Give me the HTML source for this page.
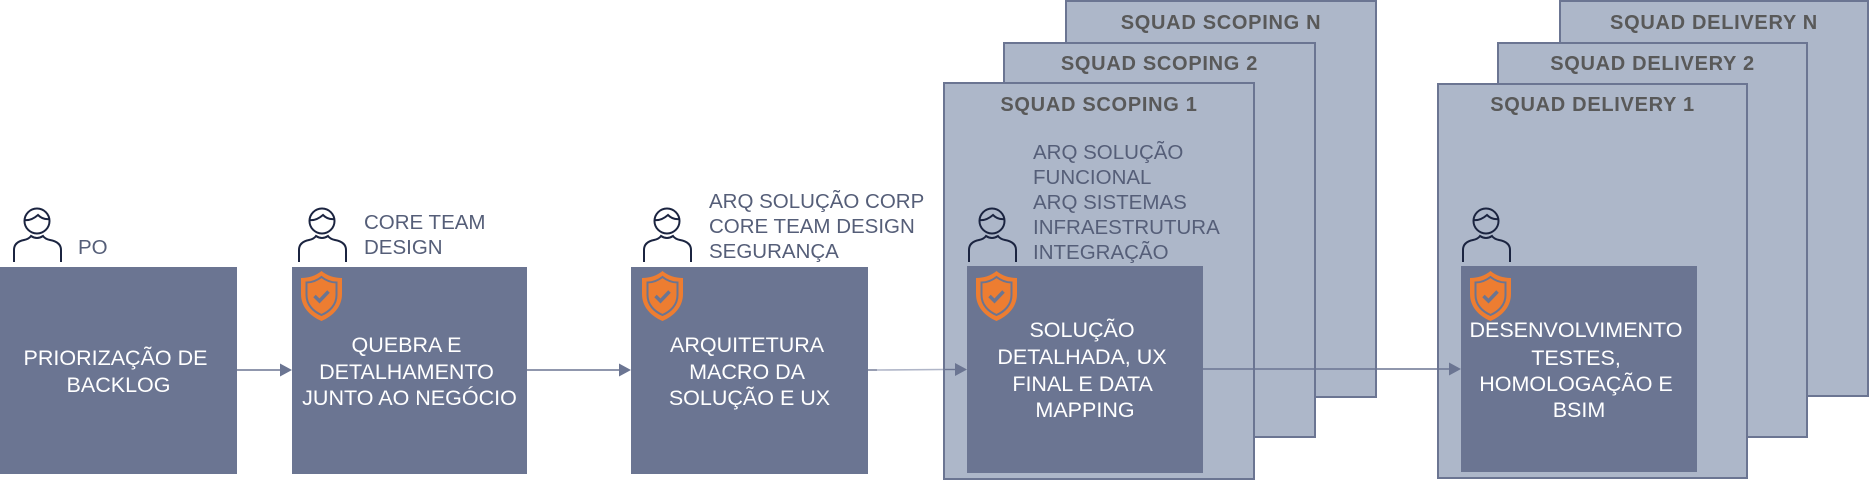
<!DOCTYPE html>
<html>
<head>
<meta charset="utf-8">
<style>
  html,body{margin:0;padding:0;background:#ffffff;}
  body{width:1871px;height:481px;overflow:hidden;}
  svg{display:block;}
  .lbl{font-family:"Liberation Sans",Arial,sans-serif;font-size:20.5px;fill:#555e78;}
  .ttl{font-family:"Liberation Sans",Arial,sans-serif;font-size:20px;font-weight:bold;fill:#595959;letter-spacing:0.7px;}
  .box{font-family:"Liberation Sans",Arial,sans-serif;font-size:21.5px;fill:#ffffff;}
</style>
</head>
<body>
<svg width="1871" height="481" viewBox="0 0 1871 481" xmlns="http://www.w3.org/2000/svg">
  <defs>
    <g id="person">
      <circle cx="24" cy="15" r="12.5" fill="none" stroke="#1b2440" stroke-width="2"/>
      <path d="M11.5 14 Q18 15 25 9 Q30 14 36.5 13" fill="none" stroke="#1b2440" stroke-width="2"/>
      <path d="M1 56 V44 Q1 36 11 34 Q16 33 18 30 Q24 34 30 30 Q32 33 37 34 Q48 36 48 44 V56" fill="none" stroke="#1b2440" stroke-width="2"/>
    </g>
    <g id="shield">
      <path d="M20.5 0 C26 4.5 33 7 41 7 V23 C41 36 32 45 20.5 50 C9 45 0 36 0 23 V7 C8 7 15 4.5 20.5 0 Z" fill="#ed7d31"/>
      <path d="M20.5 6 C25 9.5 30 11.5 35.5 11.5 V24 C35.5 34 28.5 40.5 20.5 44 C12.5 40.5 5.5 34 5.5 24 V11.5 C11 11.5 16 9.5 20.5 6 Z" fill="none" stroke="#6b7592" stroke-width="2"/>
      <polyline points="13.5,25 18.5,30 27.5,20.5" fill="none" stroke="#6b7592" stroke-width="3.5"/>
    </g>
  </defs>

  <!-- Scoping stack -->
  <rect x="1066" y="1" width="310" height="396" fill="#adb7c9" stroke="#6b7592" stroke-width="2"/>
  <rect x="1004" y="43" width="311" height="394" fill="#adb7c9" stroke="#6b7592" stroke-width="2"/>
  <rect x="944" y="83" width="310" height="396" fill="#adb7c9" stroke="#6b7592" stroke-width="2"/>
  <text class="ttl" x="1221" y="29" text-anchor="middle">SQUAD SCOPING N</text>
  <text class="ttl" x="1159.5" y="70" text-anchor="middle">SQUAD SCOPING 2</text>
  <text class="ttl" x="1099" y="111" text-anchor="middle">SQUAD SCOPING 1</text>

  <!-- Delivery stack -->
  <rect x="1560" y="1" width="308" height="395" fill="#adb7c9" stroke="#6b7592" stroke-width="2"/>
  <rect x="1498" y="43" width="309" height="394" fill="#adb7c9" stroke="#6b7592" stroke-width="2"/>
  <rect x="1438" y="84" width="309" height="394" fill="#adb7c9" stroke="#6b7592" stroke-width="2"/>
  <text class="ttl" x="1714" y="29" text-anchor="middle">SQUAD DELIVERY N</text>
  <text class="ttl" x="1652.5" y="70" text-anchor="middle">SQUAD DELIVERY 2</text>
  <text class="ttl" x="1592.5" y="111" text-anchor="middle">SQUAD DELIVERY 1</text>

  <!-- Dark boxes -->
  <rect x="0" y="267" width="237" height="207" fill="#6b7592"/>
  <rect x="292" y="267" width="235" height="207" fill="#6b7592"/>
  <rect x="631" y="267" width="237" height="207" fill="#6b7592"/>
  <rect x="967" y="266" width="236" height="207" fill="#6b7592"/>
  <rect x="1461" y="266" width="236" height="206" fill="#6b7592"/>

  <!-- Person icons -->
  <use href="#person" x="13" y="206"/>
  <use href="#person" x="298" y="206"/>
  <use href="#person" x="643" y="206"/>
  <use href="#person" x="968" y="206"/>
  <use href="#person" x="1462" y="206"/>

  <!-- Shields -->
  <use href="#shield" x="301" y="271"/>
  <use href="#shield" x="642" y="271"/>
  <use href="#shield" x="976" y="271"/>
  <use href="#shield" x="1470" y="271"/>

  <!-- Labels -->
  <text class="lbl" x="78" y="254">PO</text>
  <text class="lbl" x="364" y="229">CORE TEAM</text>
  <text class="lbl" x="364" y="254">DESIGN</text>
  <text class="lbl" x="709" y="208">ARQ SOLUÇÃO CORP</text>
  <text class="lbl" x="709" y="233">CORE TEAM DESIGN</text>
  <text class="lbl" x="709" y="258">SEGURANÇA</text>
  <text class="lbl" x="1033" y="159">ARQ SOLUÇÃO</text>
  <text class="lbl" x="1033" y="184">FUNCIONAL</text>
  <text class="lbl" x="1033" y="209">ARQ SISTEMAS</text>
  <text class="lbl" x="1033" y="234">INFRAESTRUTURA</text>
  <text class="lbl" x="1033" y="259">INTEGRAÇÃO</text>

  <!-- Box texts -->
  <text class="box" text-anchor="middle">
    <tspan x="118.5" y="365">PRIORIZAÇÃO DE</tspan>
    <tspan x="118.5" y="392">BACKLOG</tspan>
  </text>
  <text class="box" text-anchor="middle">
    <tspan x="409.5" y="352">QUEBRA E</tspan>
    <tspan x="409.5" y="379">DETALHAMENTO</tspan>
    <tspan x="409.5" y="405">JUNTO AO NEGÓCIO</tspan>
  </text>
  <text class="box" text-anchor="middle">
    <tspan x="749.5" y="352">ARQUITETURA</tspan>
    <tspan x="749.5" y="379">MACRO DA</tspan>
    <tspan x="749.5" y="405">SOLUÇÃO E UX</tspan>
  </text>
  <text class="box" text-anchor="middle">
    <tspan x="1085" y="337">SOLUÇÃO</tspan>
    <tspan x="1085" y="364">DETALHADA, UX</tspan>
    <tspan x="1085" y="391">FINAL E DATA</tspan>
    <tspan x="1085" y="417">MAPPING</tspan>
  </text>
  <text class="box" text-anchor="middle">
    <tspan x="1579" y="337">DESENVOLVIMENTO</tspan>
    <tspan x="1579" y="365">TESTES,</tspan>
    <tspan x="1579" y="391">HOMOLOGAÇÃO E</tspan>
    <tspan x="1579" y="417">BSIM</tspan>
  </text>

  <!-- Connectors -->
  <line x1="237" y1="370" x2="281" y2="370" stroke="#6b7592" stroke-width="1.4"/>
  <polygon points="280,363.5 292,370 280,376.5" fill="#6b7592"/>

  <line x1="527" y1="370" x2="620" y2="370" stroke="#6b7592" stroke-width="1.4"/>
  <polygon points="619,363.5 631,370 619,376.5" fill="#6b7592"/>

  <line x1="868" y1="370" x2="877" y2="370" stroke="#6b7592" stroke-width="1.4"/>
  <line x1="877" y1="370" x2="943" y2="369.5" stroke="#b0b6c8" stroke-width="1.6"/>
  <line x1="943" y1="369.5" x2="956" y2="369.5" stroke="#6b7592" stroke-width="1.4"/>
  <polygon points="955,363 967,369.5 955,376" fill="#6b7592"/>

  <line x1="1203" y1="369" x2="1450" y2="369" stroke="#6b7592" stroke-width="1.4"/>
  <polygon points="1449,362.5 1461,369 1449,375.5" fill="#6b7592"/>
</svg>
</body>
</html>
